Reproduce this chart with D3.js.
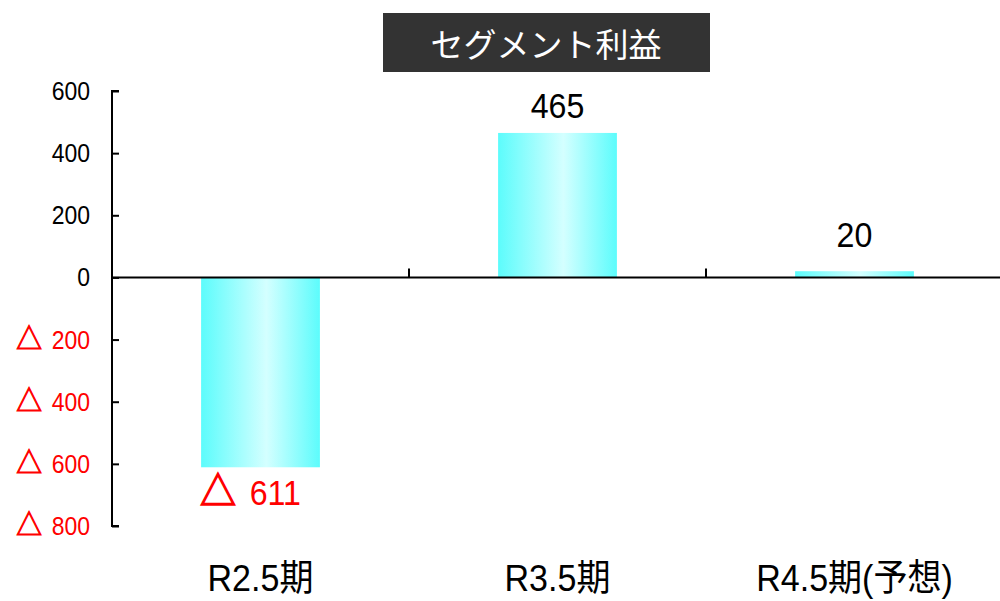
<!DOCTYPE html>
<html>
<head>
<meta charset="utf-8">
<script src="https://cdn.jsdelivr.net/npm/d3@7"></script>
<style>
  html, body { margin: 0; padding: 0; background: #fff; }
  svg { display: block; }
</style>
</head>
<body>
<svg id="chart" width="1000" height="601"></svg>
<script>
// Segment profit by fiscal period (millions of yen); negatives shown with △
const categories = ["R2.5期", "R3.5期", "R4.5期(予想)"];
const profits = [-611, 465, 20];
const tickValues = [600, 400, 200, 0, -200, -400, -600, -800];
const titleText = "セグメント利益";

const W = 1000, H = 601;
const plot = { left: 112, right: 1003, top: 91, bottom: 526 };
const numFont = "'Liberation Sans', Arial, 'Noto Sans CJK JP', sans-serif";
const cjkFont = "'Noto Sans CJK JP', sans-serif";
const squeeze = 0.92;

const svg = d3.select("#chart");

const defs = svg.append("defs");
const grad = defs.append("linearGradient")
  .attr("id", "barGrad")
  .attr("x1", "0%").attr("x2", "100%").attr("y1", "0%").attr("y2", "0%");
grad.append("stop").attr("offset", "0%").attr("stop-color", "#5cfcfc");
grad.append("stop").attr("offset", "55%").attr("stop-color", "#d4ffff");
grad.append("stop").attr("offset", "100%").attr("stop-color", "#5cfcfc");

const x = d3.scaleBand()
  .domain(categories)
  .range([plot.left, plot.right])
  .paddingInner(0.6)
  .paddingOuter(0.3);

const y = d3.scaleLinear()
  .domain([-800, 600])
  .range([plot.bottom, plot.top]);

// Horizontally condensed text; negatives get a △ prefix in a CJK face
function label(g, tx, ty, value, size, anchor, spacing) {
  const neg = typeof value === "number" && value < 0;
  const grp = g.append("g").attr("transform", `translate(${tx},${ty}) scale(${squeeze},1)`);
  const t = grp.append("text")
    .attr("x", 0).attr("y", 0)
    .attr("text-anchor", anchor)
    .attr("font-family", numFont)
    .attr("font-size", size)
    .attr("letter-spacing", spacing || 0)
    .attr("fill", neg ? "#ff0000" : "#000000");
  if (neg) {
    t.append("tspan")
      .attr("font-family", cjkFont)
      .attr("font-size", size * 1.12)
      .attr("stroke", "#ff0000")
      .attr("stroke-width", size * 0.04)
      .text("△");
    t.append("tspan").attr("dx", size * 0.42).text(String(Math.abs(value)));
  } else {
    t.text(String(value));
  }
  return grp;
}

// Title box
const tg = svg.append("g");
tg.append("rect")
  .attr("x", 383).attr("y", 13).attr("width", 327).attr("height", 59)
  .attr("fill", "#333333");
tg.append("text")
  .attr("x", 546).attr("y", 57)
  .attr("text-anchor", "middle")
  .attr("font-family", cjkFont)
  .attr("font-size", 33)
  .attr("fill", "#ffffff")
  .text(titleText);

// Bars
svg.append("g").selectAll("rect")
  .data(profits)
  .join("rect")
  .attr("x", (d, i) => x(categories[i]))
  .attr("width", x.bandwidth())
  .attr("y", d => y(Math.max(0, d)))
  .attr("height", d => Math.abs(y(d) - y(0)))
  .attr("fill", "url(#barGrad)");

// Y axis
const yAxis = d3.axisRight(y)
  .tickValues(tickValues)
  .tickSize(7)
  .tickSizeOuter(7)
  .tickFormat("");
const yg = svg.append("g")
  .attr("transform", `translate(${plot.left},0)`)
  .call(yAxis);
yg.selectAll("path, line").attr("stroke", "#000").attr("stroke-width", 2);
yg.select(".domain").attr("d", `M7,${plot.top}H0V${plot.bottom}H7`);

const ylab = svg.append("g");
tickValues.forEach(v => {
  label(ylab, 90, y(v) + 9, v, 25, "end");
});

// Zero line with category separators
const step = x.step();
const xg = svg.append("g");
xg.append("line")
  .attr("x1", plot.left).attr("x2", W)
  .attr("y1", y(0)).attr("y2", y(0))
  .attr("stroke", "#000").attr("stroke-width", 2);
categories.slice(1).forEach(c => {
  const bx = x(c) - step * x.paddingInner() / 2;
  xg.append("line")
    .attr("x1", bx).attr("x2", bx)
    .attr("y1", y(0)).attr("y2", y(0) - 9)
    .attr("stroke", "#000").attr("stroke-width", 2);
});

// Category labels
categories.forEach(c => {
  label(svg, x(c) + x.bandwidth() / 2, 591, c, 37, "middle");
});

// Value labels
profits.forEach((v, i) => {
  const cx = x(categories[i]) + x.bandwidth() / 2;
  if (v >= 0) {
    const ty = Math.min(y(v) - 15, y(0) - 30);
    label(svg, cx, ty, v, 35, "middle");
  } else {
    label(svg, cx - 10, y(v) + 38, v, 35, "middle");
  }
});
</script>
</body>
</html>
